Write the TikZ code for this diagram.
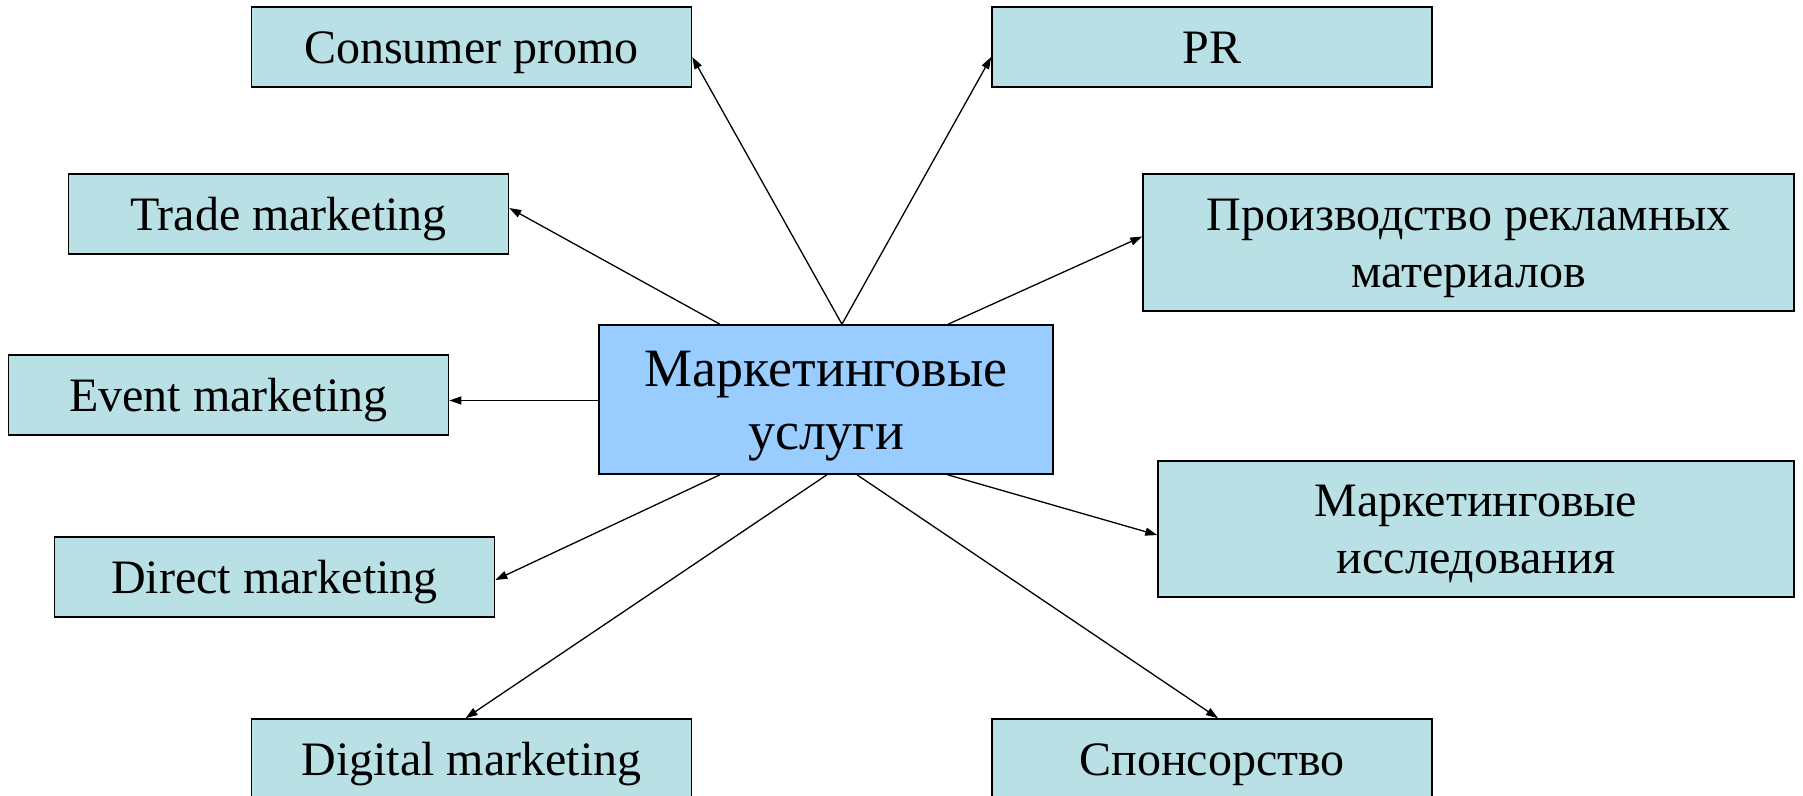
\documentclass[tikz,border=0pt]{standalone}
\usepackage{fontspec}
\setmainfont{Liberation Serif}
\usetikzlibrary{arrows.meta,calc}
\definecolor{boxfill}{RGB}{185,224,228}
\definecolor{hubfill}{RGB}{153,204,255}
\begin{document}
\begin{tikzpicture}[x=1pt,y=-1pt,
  box/.style={draw=black,line width=1.6pt,fill=boxfill,inner sep=0pt,
    minimum width=440pt,minimum height=80pt,
    font=\fontsize{48}{57}\selectfont,text height=32pt,text depth=0pt,align=center},
  boxtwo/.style={box,text height=89pt},
  hub/.style={draw=black,line width=1.6pt,fill=hubfill,inner sep=0pt,
    minimum width=454pt,minimum height=149pt,
    font=\fontsize{54}{63}\selectfont,text height=99pt,text depth=0pt,align=center},
  link/.style={line width=1.3pt,-{Triangle[length=12pt,width=8pt]}}]
\useasboundingbox (0,0) rectangle (1803,795);
\clip (0,0) rectangle (1803,795);
\node[hub] (hub) at (826,399.5) {Маркетинговые\\услуги};
\node[box] (cp) at (471.5,47) {Consumer promo};
\node[box] (pr) at (1212,47) {PR};
\node[box] (tr) at (288.5,214) {Trade marketing};
\node[boxtwo,minimum width=651pt,minimum height=137pt] (prod) at (1468.5,242.5) {Производство рекламных\\материалов};
\node[box] (ev) at (228.5,395) {Event marketing};
\node[boxtwo,minimum width=636pt,minimum height=136pt] (res) at (1476,529) {Маркетинговые\\исследования};
\node[box] (dm) at (274.5,577) {Direct marketing};
\node[box] (dg) at (471.5,759) {Digital marketing};
\node[box] (sp) at (1212,759) {Спонсорство};
\draw[link] ($(hub.north west)!0.535!(hub.north east)$) -- ($(cp.east)+(0,10)$);
\draw[link] ($(hub.north west)!0.535!(hub.north east)$) -- ($(pr.west)+(0,10)$);
\draw[link] ($(hub.north west)!0.267!(hub.north east)$) -- ($(tr.east)+(0,-6)$);
\draw[link] ($(hub.north west)!0.768!(hub.north east)$) -- ($(prod.west)+(0,-6)$);
\draw[link] ($(hub.west)+(0,1)$) -- ($(ev.east)+(0,5.5)$);
\draw[link] ($(hub.south west)!0.267!(hub.south east)$) -- ($(dm.east)+(0,3)$);
\draw[link] ($(hub.south west)!0.502!(hub.south east)$) -- ($(dg.north)+(-6,0)$);
\draw[link] ($(hub.south west)!0.568!(hub.south east)$) -- ($(sp.north)+(6,0)$);
\draw[link] ($(hub.south west)!0.767!(hub.south east)$) -- ($(res.west)+(0,6)$);
\end{tikzpicture}
\end{document}
